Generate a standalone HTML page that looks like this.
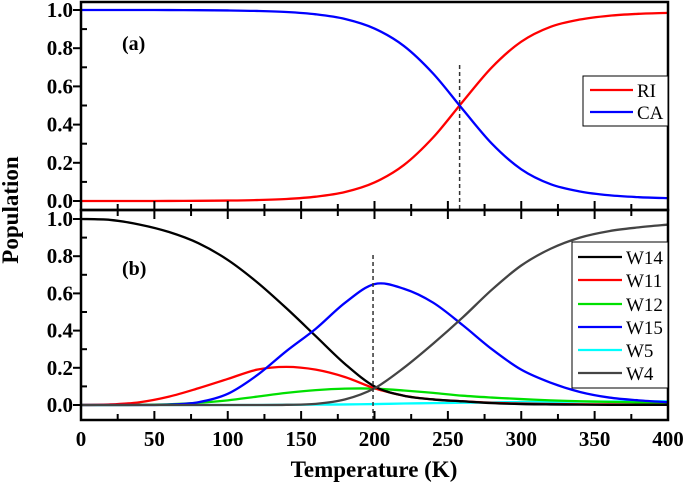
<!DOCTYPE html>
<html><head><meta charset="utf-8"><style>
body{margin:0;background:#fff}
svg{display:block;font-family:"Liberation Serif","Times New Roman","DejaVu Serif",serif}
text{font-family:"Liberation Serif","Times New Roman","DejaVu Serif",serif !important}
</style></head><body>
<svg id="chart" width="685" height="492" viewBox="0 0 685 492" xmlns="http://www.w3.org/2000/svg"></svg>
<script>
const temps = [0,20,40,60,80,100,120,140,160,180,200,220,240,260,280,300,320,340,360,380,400];
const riValues = [0,0,0.0001,0.0003,0.001,0.0023,0.005,0.0106,0.0226,0.047,0.097,0.188,0.333,0.519,0.700,0.834,0.912,0.950,0.970,0.980,0.985];
const caValues = [1,1,0.9999,0.9997,0.999,0.9977,0.995,0.9894,0.9774,0.953,0.903,0.812,0.667,0.481,0.300,0.166,0.088,0.050,0.030,0.020,0.015];
const w14Values = [1.0,0.995,0.97,0.93,0.87,0.78,0.66,0.52,0.37,0.22,0.10,0.05,0.03,0.02,0.01,0.005,0.003,0.002,0.001,0.001,0.001];
const w11Values = [0,0.003,0.015,0.045,0.09,0.14,0.19,0.205,0.19,0.15,0.09,0.05,0.03,0.02,0.012,0.008,0.005,0.004,0.003,0.002,0.002];
const w12Values = [0,0,0.001,0.004,0.012,0.025,0.045,0.065,0.08,0.088,0.088,0.078,0.065,0.05,0.04,0.032,0.025,0.02,0.017,0.014,0.012];
const w15Values = [0,0,0,0.002,0.015,0.06,0.16,0.29,0.41,0.55,0.65,0.625,0.55,0.43,0.30,0.19,0.12,0.07,0.04,0.025,0.015];
const w5Values = [0,0,0,0,0,0,0,0.001,0.002,0.003,0.005,0.008,0.01,0.012,0.014,0.016,0.017,0.018,0.019,0.02,0.02];
const w4Values = [0,0,0,0,0,0,0,0.001,0.006,0.03,0.09,0.2,0.33,0.47,0.62,0.75,0.84,0.9,0.935,0.955,0.97];
const xTicks = [0,50,100,150,200,250,300,350,400];
const yTicks = [0,0.2,0.4,0.6,0.8,1.0];
const yTickLabels = ["0.0","0.2","0.4","0.6","0.8","1.0"];

const svg = document.getElementById('chart');
const NS = 'http://www.w3.org/2000/svg';
const X0=81, X1=668;
const xs = t => X0 + (t/400)*(X1-X0);
const yTop = v => 201 - v*191;
const yBot = v => 405 - v*186;
function el(tag, attrs, parent){const e=document.createElementNS(NS,tag);for(const k in attrs)e.setAttribute(k,attrs[k]);(parent||svg).appendChild(e);return e;}
function pathFor(vals, ys){
  const pts = temps.map((t,i)=>[xs(t), ys(vals[i])]);
  let d = 'M'+pts[0][0].toFixed(2)+','+pts[0][1].toFixed(2);
  for(let i=0;i<pts.length-1;i++){
    const p0=pts[Math.max(0,i-1)],p1=pts[i],p2=pts[i+1],p3=pts[Math.min(pts.length-1,i+2)];
    const c1=[p1[0]+(p2[0]-p0[0])/6,p1[1]+(p2[1]-p0[1])/6];
    const c2=[p2[0]-(p3[0]-p1[0])/6,p2[1]-(p3[1]-p1[1])/6];
    d+=' C'+c1.map(n=>n.toFixed(2)).join(',')+' '+c2.map(n=>n.toFixed(2)).join(',')+' '+p2[0].toFixed(2)+','+p2[1].toFixed(2);
  }
  return d;
}
function series(vals, ys, color, name){
  const p = el('path',{d:pathFor(vals,ys),fill:'none',stroke:color,'stroke-width':2.3});
  
  
}
series(riValues,yTop,'#ff0000','ri-line');
series(caValues,yTop,'#0000ff','ca-line');
series(w5Values,yBot,'#00ffff','w5-line');
series(w12Values,yBot,'#00e000','w12-line');
series(w11Values,yBot,'#ff0000','w11-line');
series(w14Values,yBot,'#000000','w14-line');
series(w15Values,yBot,'#0000ff','w15-line');
series(w4Values,yBot,'#444444','w4-line');
let dl = el('line',{x1:xs(258),x2:xs(258),y1:65,y2:210,stroke:'#333','stroke-width':1.5,'stroke-dasharray':'4,3'});


dl = el('line',{x1:xs(199),x2:xs(199),y1:255,y2:420,stroke:'#333','stroke-width':1.5,'stroke-dasharray':'4,3'});


let fr = el('rect',{x:X0,y:2,width:X1-X0,height:208,fill:'none',stroke:'#000','stroke-width':2.5});


fr = el('rect',{x:X0,y:210,width:X1-X0,height:210,fill:'none',stroke:'#000','stroke-width':2.5});


for(let t=0;t<=400;t+=25){
  const major = t%50===0, L = major?9:6;
  el('line',{x1:xs(t),x2:xs(t),y1:210,y2:210-L,stroke:'#000','stroke-width':2});
  el('line',{x1:xs(t),x2:xs(t),y1:210,y2:210+L,stroke:'#000','stroke-width':2});
  el('line',{x1:xs(t),x2:xs(t),y1:420,y2:420-L,stroke:'#000','stroke-width':2});
}
xTicks.forEach(t=>{
  const tx = el('text',{x:xs(t),y:446,'text-anchor':'middle','font-size':21,'font-weight':'bold'});
  tx.textContent = t;
  
  
});
[[yTop],[yBot]].forEach(([ys])=>{
  for(let v=0;v<=1.0001;v+=0.1){
    const major = Math.round(v*10)%2===0;
    el('line',{x1:X0,x2:major?X0-8:X0+6,y1:ys(v),y2:ys(v),stroke:'#000','stroke-width':2});
  }
  yTicks.forEach((v,i)=>{
    const tx = el('text',{x:73,y:ys(v)+7,'text-anchor':'end','font-size':21,'font-weight':'bold'});
    tx.textContent = yTickLabels[i];
    
    
  });
});
</script>
<svg style="position:absolute;left:0;top:0" width="685" height="492">
  <text x="122" y="50" font-size="20" font-weight="bold">(a)</text>
  <text x="122" y="275" font-size="20" font-weight="bold">(b)</text>
  <text transform="translate(18,210) rotate(-90)" text-anchor="middle" font-size="23" font-weight="bold">Population</text>
  <text x="374" y="477" text-anchor="middle" font-size="23" font-weight="bold">Temperature (K)</text>
  <g font-size="19">
    <rect x="583" y="76" width="85" height="50" fill="#fff" stroke="#000" stroke-width="1"/>
    <line x1="590" x2="633" y1="90" y2="90" stroke="#ff0000" stroke-width="2.3"/>
    <text x="637" y="97">RI</text>
    <line x1="590" x2="633" y1="112" y2="112" stroke="#0000ff" stroke-width="2.3"/>
    <text x="637" y="119">CA</text>
  </g>
  <g font-size="19">
    <rect x="572" y="242" width="96" height="146" fill="#fff" stroke="#000" stroke-width="1"/>
    <line x1="578" x2="622" y1="257" y2="257" stroke="#000" stroke-width="2.3"/><text x="626" y="264">W14</text>
    <line x1="578" x2="622" y1="280" y2="280" stroke="#ff0000" stroke-width="2.3"/><text x="626" y="287">W11</text>
    <line x1="578" x2="622" y1="304" y2="304" stroke="#00e000" stroke-width="2.3"/><text x="626" y="311">W12</text>
    <line x1="578" x2="622" y1="327" y2="327" stroke="#0000ff" stroke-width="2.3"/><text x="626" y="334">W15</text>
    <line x1="578" x2="622" y1="350" y2="350" stroke="#00ffff" stroke-width="2.3"/><text x="626" y="357">W5</text>
    <line x1="578" x2="622" y1="373" y2="373" stroke="#444" stroke-width="2.3"/><text x="626" y="380">W4</text>
  </g>
</svg>
</body></html>
